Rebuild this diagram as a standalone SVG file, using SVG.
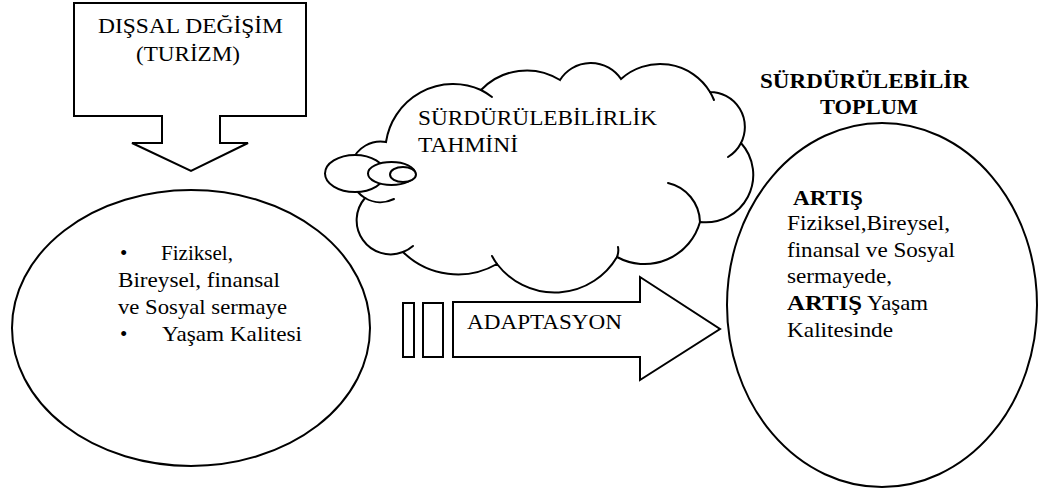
<svg xmlns="http://www.w3.org/2000/svg" width="1040" height="490" viewBox="0 0 1040 490">
<style>
  .shape { fill: #fff; stroke: #000; stroke-width: 2; stroke-linejoin: miter; }
  .line { fill: none; stroke: #000; stroke-width: 2; stroke-linecap: round; }
  .t { font-family: 'Liberation Serif', Tinos, 'Noto Serif', 'Nimbus Roman', 'Nimbus Roman No9 L', FreeSerif, Times, 'DejaVu Serif', serif; font-size: 21px; fill: #000; }
  .b { font-weight: bold; }
</style>
<rect width="1040" height="490" fill="#fff"/>

<g id="node-dissal">
  <path class="shape" d="M74 3 H306 V116 H220 V143 H248 L191 171 L132 143 H162 V116 H74 Z"/>
  <text class="t" x="98" y="33" textLength="185" lengthAdjust="spacingAndGlyphs">DIŞSAL DEĞİŞİM</text>
  <text class="t" x="136" y="61" textLength="104" lengthAdjust="spacingAndGlyphs">(TURİZM)</text>
</g>

<g id="node-sermaye">
  <ellipse class="shape" cx="191" cy="328" rx="179" ry="138"/>
  <text class="t" x="120" y="260">•</text>
  <text class="t" x="161" y="260" textLength="72" lengthAdjust="spacingAndGlyphs">Fiziksel,</text>
  <text class="t" x="118" y="287" textLength="162" lengthAdjust="spacingAndGlyphs">Bireysel, finansal</text>
  <text class="t" x="118" y="314" textLength="169" lengthAdjust="spacingAndGlyphs">ve Sosyal sermaye</text>
  <text class="t" x="120" y="341">•</text>
  <text class="t" x="162" y="341" textLength="140" lengthAdjust="spacingAndGlyphs">Yaşam Kalitesi</text>
</g>

<g id="node-tahmin">
  <path class="shape" d="M386 142 A68 68 0 0 1 481 90 A63 63 0 0 1 560 80 A36.4 36.4 0 0 1 621 79 A58.4 58.4 0 0 1 710 92 A35 35 0 0 1 741 143 A47.5 47.5 0 0 1 700 222 A57.5 57.5 0 0 1 617 257 A72.5 72.5 0 0 1 497 264 A78.4 78.4 0 0 1 403 252 A34 34 0 0 1 365 198 A30.4 30.4 0 0 1 386 142 Z"/>
  <path class="line" d="M481 90 A68 68 0 0 1 492 97"/>
  <path class="line" d="M710 92 A58.4 58.4 0 0 1 714 100"/>
  <path class="line" d="M741 143 A35 35 0 0 1 728 157"/>
  <path class="line" d="M668 183 A41 41 0 0 1 700 222"/>
  <path class="line" d="M617 257 Q619 252 618 247"/>
  <path class="line" d="M497 264 A72.5 72.5 0 0 1 492 256"/>
  <path class="line" d="M403 252 A34 34 0 0 0 413 246"/>
  <path class="line" d="M365 198 A30.4 30.4 0 0 0 394 199"/>
  <ellipse class="shape" cx="355" cy="173.5" rx="30" ry="18.5"/>
  <ellipse class="shape" cx="391.5" cy="173.5" rx="23.5" ry="11.5"/>
  <ellipse class="shape" cx="403" cy="174.5" rx="13" ry="7.5"/>
  <text class="t" x="418" y="125" textLength="239" lengthAdjust="spacingAndGlyphs">SÜRDÜRÜLEBİLİRLİK</text>
  <text class="t" x="418" y="152" textLength="100" lengthAdjust="spacingAndGlyphs">TAHMİNİ</text>
</g>

<g id="node-toplum">
  <text class="t b" x="760" y="88" textLength="209" lengthAdjust="spacingAndGlyphs">SÜRDÜRÜLEBİLİR</text>
  <text class="t b" x="820" y="114" textLength="98" lengthAdjust="spacingAndGlyphs">TOPLUM</text>
  <ellipse class="shape" cx="882" cy="305" rx="155" ry="182"/>
  <text class="t b" x="793" y="205" textLength="70" lengthAdjust="spacingAndGlyphs">ARTIŞ</text>
  <text class="t" x="787" y="230" textLength="163" lengthAdjust="spacingAndGlyphs">Fiziksel,Bireysel,</text>
  <text class="t" x="787" y="257" textLength="168" lengthAdjust="spacingAndGlyphs">finansal ve Sosyal</text>
  <text class="t" x="787" y="283" textLength="105" lengthAdjust="spacingAndGlyphs">sermayede,</text>
  <text class="t b" x="787" y="310" textLength="75" lengthAdjust="spacingAndGlyphs">ARTIŞ</text>
  <text class="t" x="867" y="310" textLength="61" lengthAdjust="spacingAndGlyphs">Yaşam</text>
  <text class="t" x="787" y="337" textLength="106" lengthAdjust="spacingAndGlyphs">Kalitesinde</text>
</g>

<g id="connectors">
  <rect class="shape" x="403" y="303" width="11" height="54"/>
  <rect class="shape" x="423" y="303" width="20" height="54"/>
  <path class="shape" d="M453 302 H640 V277 L720 329 L640 380 V357 H453 Z"/>
  <text class="t" x="467" y="329" textLength="155" lengthAdjust="spacingAndGlyphs">ADAPTASYON</text>
</g>
</svg>
